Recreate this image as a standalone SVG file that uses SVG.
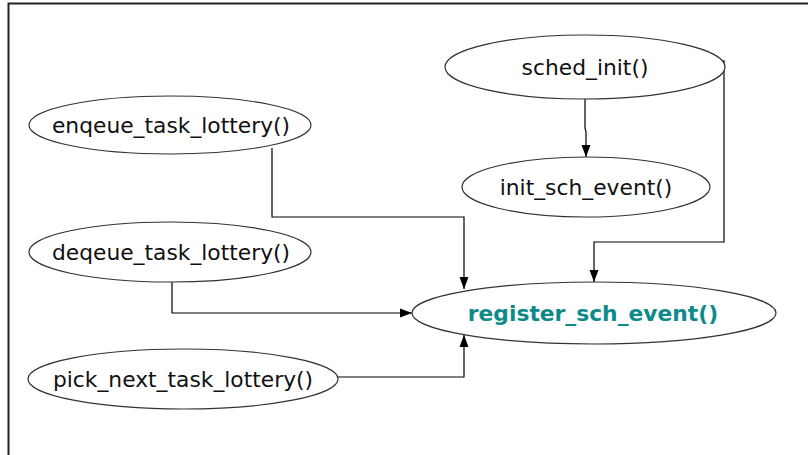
<svg xmlns="http://www.w3.org/2000/svg" width="808" height="455" viewBox="0 0 808 455">
<style>
.n ellipse{fill:#fff;stroke:#333;stroke-width:1.2}
.n text{font-family:"DejaVu Sans",sans-serif;font-size:21.8px;fill:#111;text-anchor:middle}
.n text.hl{fill:#0e8a8a;font-weight:bold}
.e path{fill:none;stroke:#000;stroke-width:1.2}
</style>
<defs>
<marker id="a" viewBox="0 0 12 10" refX="12" refY="5" markerWidth="12" markerHeight="10" markerUnits="userSpaceOnUse" orient="auto">
<path d="M0,0.5 L12,5 L0,9.5 Z" fill="#000"/>
</marker>
</defs>
<rect width="808" height="455" fill="#fff"/>
<path d="M8.5,455 V3.5 H808" fill="none" stroke="#222" stroke-width="2"/>
<g class="e">
<path d="M585,99 V128 L586,132 V157" marker-end="url(#a)"/>
<path d="M724,60 V242 H594 V282" marker-end="url(#a)"/>
<path d="M272,148 V217 H464 V289" marker-end="url(#a)"/>
<path d="M172,282 V313 H412" marker-end="url(#a)"/>
<path d="M338,377 H464 V335" marker-end="url(#a)"/>
</g>
<g class="n" id="sched_init"><ellipse cx="585" cy="67" rx="140" ry="32"/><text x="585" y="75">sched_init()</text></g>
<g class="n" id="init_sch_event"><ellipse cx="586" cy="187" rx="124" ry="30"/><text x="586" y="195">init_sch_event()</text></g>
<g class="n" id="enqeue"><ellipse cx="170" cy="125" rx="141" ry="29"/><text x="171" y="133">enqeue_task_lottery()</text></g>
<g class="n" id="deqeue"><ellipse cx="170" cy="252" rx="141" ry="30"/><text x="171" y="260">deqeue_task_lottery()</text></g>
<g class="n" id="pick_next"><ellipse cx="183" cy="379" rx="155" ry="30"/><text x="183" y="387">pick_next_task_lottery()</text></g>
<g class="n" id="register_sch_event"><ellipse cx="594" cy="313" rx="182" ry="31"/><text class="hl" x="593" y="321">register_sch_event()</text></g>
</svg>
